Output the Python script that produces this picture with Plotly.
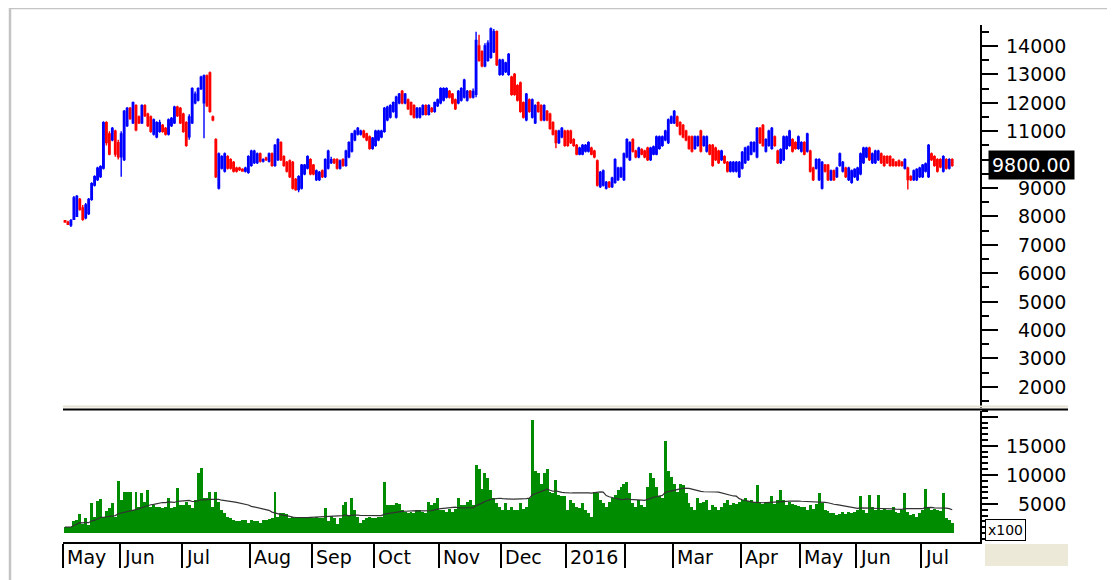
import plotly.graph_objects as go
import pandas as pd

# ---------------- data (daily, May 2015 - Jul 2016) ----------------
opens = [
    7850, 7800, 7700, 7900, 8000, 8600, 8300, 7950, 8100, 8600, 9100, 9300, 9400, 9700, 11300, 10900, 10700, 11000, 10600,
    10100, 10000, 11200, 11800, 11300, 11900, 11500, 11300, 11900, 11600, 11500, 10900, 10800, 11000, 11200, 11100, 10900, 11200, 11300, 11850, 11800,
    11600, 11300, 10800, 11300, 12000, 12100, 12500, 12000, 12950, 13050, 11500, 10700, 9000, 9700, 9600, 10100, 10000, 9900, 9700, 9700, 9650, 9600, 9550,
    9800, 9900, 9900, 10200, 9950, 10050, 9950, 10200, 9800, 10000, 10600, 10100, 9900, 9950, 9900, 9300, 8950, 9000, 9500, 9700, 10000,
    9800, 9300, 9300, 9600, 9400, 9700, 9900, 10000, 10000, 9700, 10000, 9800, 10100, 10300, 10700, 10900, 10900, 11000, 10900, 10800, 10400,
    10500, 10700, 10800, 11000, 11400, 11500, 11700, 11500, 12000, 12400, 12000, 12100, 12000, 11900, 11500, 11500, 11600, 11900, 11600, 11800, 11700, 11900,
    12000, 12100, 12200, 12400, 12300, 12100, 12000, 12100, 12200, 12100, 12400, 12200, 12300, 14000, 13800, 13300, 13500, 13600, 13800, 14500, 13000,
    13000, 13100, 13000, 12900, 13000, 12600, 12700, 12000, 11400, 12100, 11500, 11300, 12000, 11900, 11400, 11700, 11600, 11300, 11000, 10600, 10800, 11000,
    11000, 11000, 10700, 10500, 10200, 10200, 10300, 10300, 10400, 10300, 9950, 9050, 9100, 9000, 9200, 9050, 9200, 9300, 9400, 9300,
    10100, 10000, 10700, 10300, 10100, 10350, 10300, 10400, 10000, 10200, 10200, 10400, 10500, 10700, 10600, 11300,
    11300, 11500, 11300, 11200, 11000, 10800, 10800, 10400, 10500, 11000, 10500, 10300, 10500, 10500, 10400, 10300, 10000, 10100, 9900, 9600, 9600, 9600, 9400,
    9700, 9900, 10000, 10200, 10300, 10100, 11100, 11200, 10300, 10500, 10400, 10800, 10300, 9900, 10000, 10400, 10500, 10700, 10600, 10400,
    10300, 10600, 10300, 10300, 9700, 9700, 9300, 9000, 9800, 9800, 9300, 9600, 9400, 9800, 9600, 9700, 9300, 9200, 9400,
    9300, 9500, 9900, 10100, 10400, 9900, 9900, 10000, 10200, 10100, 10100, 10100, 10000, 9900, 9950, 9900, 9700, 9700, 9400, 9300, 9300, 9400,
    9400, 9600, 9400, 10200, 10100, 10000, 10000, 9600, 10000, 9700, 10000,
]
highs = [
    7870, 7850, 7910, 8720, 8750, 8650, 8400, 8470, 8650, 9200, 9450, 9750, 9800, 11350, 11350, 11000, 11150, 11050, 10700,
    11000, 11750, 11850, 11850, 12050, 11950, 11550, 11950, 11950, 11650, 11550, 11450, 11350, 11400, 11250, 11150, 11450, 11500, 11900, 11900, 11850,
    11650, 11350, 11600, 12550, 12400, 12550, 12950, 13000, 13000, 13100, 11550, 10750, 10250, 10150, 10250, 10150, 10050, 9950, 9750, 9750, 9700, 9750, 10150,
    10350, 10350, 10250, 10250, 10050, 10100, 10250, 10250, 10550, 10750, 10650, 10150, 9950, 10000, 9950, 9350, 9450, 9850, 9850, 10150, 10050,
    9850, 9650, 9600, 9650, 10050, 10350, 10100, 10050, 10050, 10000, 10050, 10350, 10650, 10950, 11050, 11150, 11050, 11050, 10950, 10850, 10800,
    11050, 11050, 11050, 11850, 11900, 11950, 12050, 12250, 12350, 12450, 12350, 12150, 12050, 11950, 11850, 11850, 11950, 11950, 11950, 11850, 12050, 12150,
    12550, 12550, 12550, 12450, 12350, 12150, 12450, 12550, 12850, 12450, 12450, 12500, 14500, 14400, 13850, 14100, 14200, 14650, 14600, 14550, 13550,
    13550, 13450, 13750, 12950, 13050, 12650, 12750, 12050, 12350, 12150, 12150, 11950, 12050, 11950, 11950, 11750, 11650, 11350, 11050, 11050, 11150, 11050,
    11050, 11050, 10750, 10550, 10450, 10550, 10550, 10650, 10450, 10350, 10000, 9600, 9650, 9250, 9250, 9400, 10050, 9750, 9750, 10250,
    10750, 10650, 10750, 10350, 10450, 10400, 10350, 10450, 10450, 10500, 10850, 10850, 10850, 11050, 11450, 11550,
    11750, 11550, 11350, 11250, 11050, 10850, 10850, 10850, 10850, 11050, 10850, 10850, 10550, 10550, 10450, 10350, 10350, 10150, 9950, 9950, 9950, 9950, 9950,
    10300, 10450, 10500, 10650, 10650, 11150, 11150, 11250, 10750, 11050, 11150, 10850, 10350, 10400, 10850, 10850, 11050, 10750, 10650, 10850,
    10650, 10650, 10950, 10350, 9750, 10050, 10050, 9950, 9850, 9850, 9650, 9650, 9750, 10250, 9950, 9750, 9750, 9650, 9700,
    9750, 10250, 10450, 10450, 10450, 10250, 10350, 10350, 10250, 10150, 10150, 10150, 10050, 9950, 10000, 9950, 10050, 9750, 9450, 9650, 9700, 9750,
    9850, 9900, 10550, 10250, 10150, 10050, 10050, 10150, 10050, 10050, 10050,
]
lows = [
    7780, 7700, 7630, 7870, 7980, 8200, 7850, 7900, 8050, 8550, 9050, 9250, 9350, 9650, 10500, 10150, 10650, 10100, 10000,
    9400, 9950, 11150, 11400, 11250, 11000, 11250, 11250, 11500, 11150, 10950, 10850, 10750, 10950, 10950, 10850, 10850, 11150, 11250, 11500, 11250,
    10950, 10450, 10700, 11250, 11950, 12050, 12450, 10750, 11850, 11650, 11350, 9350, 8950, 9650, 9550, 9650, 9650, 9550, 9550, 9600, 9580, 9550, 9500,
    9750, 9850, 9850, 9900, 9900, 9950, 9900, 9750, 9750, 9950, 9950, 9750, 9550, 9350, 8950, 8900, 8850, 8950, 9450, 9650, 9450,
    9450, 9250, 9250, 9350, 9350, 9650, 9850, 9850, 9650, 9650, 9750, 9750, 10050, 10250, 10650, 10850, 10850, 10750, 10650, 10350, 10350,
    10450, 10650, 10750, 10950, 11350, 11450, 11650, 11450, 11950, 11950, 11950, 11750, 11550, 11450, 11450, 11450, 11550, 11550, 11550, 11650, 11650, 11850,
    11950, 12050, 12150, 12150, 11950, 11750, 11950, 12050, 12150, 12050, 12150, 12150, 12200, 13450, 13250, 13250, 13450, 13550, 13750, 13300, 12950,
    12950, 13050, 12950, 12250, 12250, 12050, 11650, 11450, 11350, 11650, 11450, 11250, 11650, 11350, 11350, 11350, 11050, 10850, 10400, 10550, 10750, 10450,
    10450, 10550, 10450, 10150, 10150, 10150, 10250, 10250, 10150, 10050, 9050, 9000, 9050, 8950, 9000, 9000, 9150, 9250, 9350, 9250,
    10050, 9950, 10250, 10050, 10050, 10150, 10050, 9950, 9950, 10150, 10150, 10350, 10450, 10650, 10550, 11250,
    11250, 11150, 10850, 10750, 10650, 10350, 10250, 10350, 10450, 10250, 10450, 10250, 10150, 9750, 9950, 9850, 9950, 9850, 9550, 9550, 9550, 9550, 9350,
    9650, 9850, 9950, 10150, 10250, 10050, 10550, 10450, 10250, 10450, 10350, 10450, 9850, 9850, 9950, 10350, 10450, 10250, 10350, 10350,
    10250, 10150, 10250, 9550, 9250, 9650, 9250, 8950, 9550, 9250, 9250, 9250, 9350, 9750, 9550, 9350, 9250, 9150, 9350,
    9250, 9450, 9850, 10050, 9950, 9850, 9850, 9950, 9850, 9750, 9850, 9750, 9750, 9750, 9750, 9750, 9650, 8950, 9250, 9250, 9250, 9350,
    9350, 9550, 9350, 9950, 9750, 9550, 9700, 9550, 9650, 9650, 9750,
]
closes = [
    7800, 7720, 7850, 8650, 8700, 8250, 7900, 8400, 8600, 9150, 9400, 9700, 9750, 11300, 10600, 10200, 11100, 10200, 10100,
    10900, 11700, 11800, 11450, 12000, 11050, 11300, 11900, 11550, 11200, 11000, 11400, 11300, 11300, 11000, 10900, 11400, 11450, 11850, 11550, 11300,
    11000, 10500, 11500, 12500, 12300, 12500, 12900, 12950, 11900, 11700, 11400, 9400, 10200, 10100, 10200, 9700, 9700, 9600, 9600, 9650, 9600, 9700, 10100,
    10300, 10300, 10200, 9950, 10000, 10000, 10200, 9800, 10500, 10700, 10000, 9800, 9600, 9400, 9000, 8950, 9400, 9800, 9800, 10100, 9500,
    9500, 9600, 9550, 9400, 10000, 10300, 10000, 9900, 9700, 9950, 9800, 10300, 10600, 10900, 11000, 11100, 11000, 10800, 10700, 10400, 10750,
    11000, 11000, 11000, 11800, 11850, 11900, 12000, 12200, 12300, 12000, 12300, 11800, 11600, 11500, 11800, 11800, 11900, 11600, 11900, 11700, 12000, 12100,
    12500, 12500, 12500, 12200, 12000, 11800, 12400, 12500, 12800, 12400, 12200, 12400, 14200, 13500, 13300, 14000, 14100, 14600, 14500, 13350, 13500,
    13500, 13400, 13700, 12300, 12300, 12100, 11700, 11500, 12300, 11700, 12100, 11900, 11700, 11400, 11900, 11400, 11100, 10900, 10600, 11000, 11100, 10500,
    10500, 10600, 10500, 10200, 10400, 10500, 10500, 10600, 10200, 10100, 9100, 9550, 9600, 9200, 9050, 9350, 10000, 9700, 9700, 10200,
    10700, 10600, 10300, 10100, 10400, 10200, 10100, 10000, 10400, 10450, 10800, 10800, 10800, 11000, 11400, 11500,
    11700, 11200, 10900, 10800, 10700, 10400, 10300, 10800, 10800, 10300, 10800, 10800, 10200, 9800, 10000, 9900, 10300, 9900, 9600, 9900, 9900, 9900, 9900,
    10250, 10400, 10450, 10600, 10600, 11100, 10600, 10500, 10700, 11000, 11100, 10500, 9900, 10350, 10800, 10800, 11000, 10300, 10400, 10800,
    10600, 10200, 10900, 9600, 9300, 10000, 10000, 9900, 9600, 9300, 9600, 9300, 9700, 10200, 9900, 9400, 9700, 9600, 9650,
    9700, 10200, 10400, 10400, 10000, 10200, 10300, 10300, 9900, 9800, 9900, 9800, 9800, 9800, 9800, 9800, 10000, 9300, 9300, 9600, 9650, 9700,
    9800, 9850, 10500, 10000, 9800, 9600, 9750, 10100, 9700, 10000, 9800,
]
volumes = [  # in units of x100
    1000, 1100, 1000, 2100, 2200, 3200, 1600, 2500, 1300, 5100, 2700, 5500, 5800, 2800, 3800, 4300, 5100, 2800, 9000,
    5700, 7000, 7000, 7000, 4000, 7000, 4500, 6800, 5300, 7400, 4500, 4800, 4500, 4500, 4300, 4500, 6100, 4300, 4500, 7800, 4800,
    4800, 5400, 4800, 4300, 5700, 10300, 11200, 6100, 6100, 7000, 4500, 7000, 5300, 4000, 3400, 2800, 2500, 2300, 2100, 2000, 2300, 2200, 1700,
    2200, 2000, 2100, 1700, 2300, 2200, 2400, 2600, 7000, 2800, 3400, 3400, 3300, 2600, 2800, 2500, 2700, 2600, 2800, 2500, 2700,
    2500, 2800, 2600, 2500, 4300, 2100, 2900, 2500, 1600, 2500, 4800, 5400, 3100, 6000, 4000, 2800, 1700, 2200, 2600, 2800, 2600,
    2500, 2800, 2800, 8700, 4800, 4800, 4800, 5100, 5000, 4000, 3700, 3400, 3600, 3400, 3800, 4000, 3600, 3400, 5400, 4800, 5100, 6000,
    4000, 4000, 3700, 4200, 3700, 4200, 6000, 4800, 4800, 5400, 5600, 4800, 11700, 11100, 7500, 10300, 9400, 7400, 6000, 5100, 4500,
    4000, 5100, 4000, 4500, 4000, 4000, 5100, 4200, 4500, 6000, 19500, 10600, 10300, 8500, 10300, 11100, 7000, 6800, 9100, 6600, 6400, 6400,
    4000, 5600, 5100, 4500, 4300, 5100, 4000, 3500, 2800, 7000, 6800, 5600, 5100, 4500, 5400, 6000, 6600, 7400, 7900, 8500,
    8800, 6800, 5100, 4500, 5600, 4800, 4500, 7900, 10300, 9400, 7900, 6400, 6000, 15900, 10600, 9600,
    8500, 7000, 8500, 8200, 6800, 5100, 4500, 4000, 6000, 5100, 5400, 5600, 4000, 4800, 4500, 4000, 4500, 5200, 5600, 4800, 5200, 5000, 5400,
    5600, 6000, 5500, 5600, 5400, 8300, 5100, 5000, 5400, 5200, 6400, 5000, 5600, 7400, 5600, 4800, 5400, 5000, 4800, 4600,
    4500, 4500, 4000, 4800, 4200, 5000, 6800, 5100, 4000, 3800, 3400, 3500, 3100, 3300, 3600, 3200, 3700, 3500, 3600,
    4000, 6400, 4000, 3400, 6600, 4500, 4000, 6600, 4000, 4200, 3900, 4000, 4500, 3600, 3400, 4000, 6800, 3700, 3100, 3300, 2800, 3400,
    4000, 7500, 4500, 4000, 4200, 4000, 3800, 6800, 2500, 2200, 1700,
]
month_ticks = [-0.68, 18.5, 39.5, 62.5, 83.5, 104.5, 126.5, 147.5, 169.5, 189.5, 205.5, 228.5, 248.5, 267.5, 289.5]
month_labels = ["May", "Jun", "Jul", "Aug", "Sep", "Oct", "Nov", "Dec", "2016", "", "Mar", "Apr", "May", "Jun", "Jul"]
price_ticks = [2000, 3000, 4000, 5000, 6000, 7000, 8000, 9000, 11000, 12000, 13000, 14000]
price_major = list(range(2000, 15000, 1000))
vol_ticks = [5000, 10000, 15000]
last_price = 9800

n = len(closes)
assert len(opens) == len(highs) == len(lows) == n == len(volumes), (len(opens), len(highs), len(lows), n, len(volumes))
xs = list(range(n))
vol_ma = pd.Series(volumes).rolling(25, min_periods=1).mean().tolist()

FONT = "DejaVu Sans"
fig = go.Figure()
fig.add_trace(go.Candlestick(
    x=xs, open=opens, high=highs, low=lows, close=closes,
    increasing=dict(line=dict(color="#0000FF", width=1.4), fillcolor="#0000FF"),
    decreasing=dict(line=dict(color="#FF0000", width=1.4), fillcolor="#FF0000"),
    whiskerwidth=0, xaxis="x", yaxis="y2", hoverinfo="skip", showlegend=False))
fig.add_trace(go.Bar(x=xs, y=volumes, marker=dict(color="#008C00", line=dict(width=0)),
                     xaxis="x", yaxis="y", hoverinfo="skip", showlegend=False))
fig.add_trace(go.Scatter(x=xs, y=vol_ma, mode="lines", line=dict(color="#333333", width=1.2),
                         xaxis="x", yaxis="y", hoverinfo="skip", showlegend=False))

# page pixel geometry (the html body adds an 8px offset)
OFF = 8
W, H = 1115, 580
L, R, T, B = 63 - OFF, 1115 - (980 - OFF), 25 - OFF, 580 - (542 - OFF)
pw, ph = W - L - R, H - T - B


def px(xp):
    return (xp - OFF - L) / pw


def py(yp):
    return (H - B - (yp - OFF)) / ph


annotations = []
for v in price_ticks:
    annotations.append(dict(x=px(1068), xref="paper", y=v, yref="y2", text=f"{v}", showarrow=False,
                            xanchor="right", yanchor="middle", font=dict(family=FONT, size=19, color="black")))
for v in vol_ticks:
    annotations.append(dict(x=px(1068), xref="paper", y=v, yref="y", text=f"{v}", showarrow=False,
                            xanchor="right", yanchor="middle", font=dict(family=FONT, size=19, color="black")))
for t, lab in zip(month_ticks, month_labels):
    if lab:
        annotations.append(dict(x=t, xref="x", y=py(544), yref="paper", text=lab, showarrow=False,
                                xanchor="left", yanchor="top", xshift=2,
                                font=dict(family=FONT, size=19, color="black")))
annotations.append(dict(x=px(988), xref="paper", y=last_price, yref="y2", text=f"{last_price:.2f}",
                        showarrow=False, xanchor="left", yanchor="middle", bgcolor="black", borderpad=3,
                        font=dict(family=FONT, size=19, color="white")))
annotations.append(dict(x=px(985), xref="paper", y=py(530), yref="paper", text="x100", showarrow=False,
                        xanchor="left", yanchor="middle", bgcolor="white", bordercolor="black", borderwidth=1,
                        borderpad=2, font=dict(family=FONT, size=14, color="black")))

shapes = [
    dict(type="rect", xref="paper", yref="paper", x0=px(10), x1=px(1110), y0=py(600), y1=py(8),
         line=dict(color="#C4C4C4", width=2.5), fillcolor="rgba(0,0,0,0)", layer="below"),
    dict(type="line", xref="paper", yref="paper", x0=0, x1=px(1068), y0=py(406.5), y1=py(406.5),
         line=dict(color="#E6E2D2", width=2)),
    dict(type="line", xref="paper", yref="paper", x0=0, x1=px(1068), y0=py(409.5), y1=py(409.5),
         line=dict(color="black", width=2)),
    dict(type="rect", xref="paper", yref="paper", x0=px(985), x1=px(1068), y0=py(566), y1=py(544),
         line=dict(width=0), fillcolor="#ECE9D8"),
]

fig.update_layout(
    width=W, height=H, autosize=False,
    margin=dict(l=L, r=R, t=T, b=B, pad=0),
    paper_bgcolor="white", plot_bgcolor="white",
    showlegend=False, bargap=0, hovermode=False,
    xaxis=dict(domain=[0, 1], range=[-0.68, 309.4], anchor="y", showline=True, linecolor="black",
               linewidth=2, ticks="outside", ticklen=24, tickwidth=1.5, tickcolor="black",
               tickmode="array", tickvals=month_ticks, showticklabels=False, showgrid=False,
               zeroline=False, rangeslider=dict(visible=False), fixedrange=True),
    yaxis=dict(domain=[0, py(411)], range=[-1550, 21000], side="right", anchor="x", showline=True,
               linecolor="black", linewidth=2, ticks="outside", ticklen=16, tickwidth=2,
               tickcolor="black", tickmode="array", tickvals=[5000, 10000, 15000, 20000],
               showticklabels=False, showgrid=False, zeroline=False, fixedrange=True,
               minor=dict(ticks="outside", ticklen=6, tickwidth=1.5, tickcolor="black",
                          tickmode="linear", tick0=0, dtick=1000)),
    yaxis2=dict(domain=[py(408), 1], range=[1254, 14740], side="right", anchor="x", showline=True,
                linecolor="black", linewidth=2, ticks="outside", ticklen=16, tickwidth=2,
                tickcolor="black", tickmode="array", tickvals=price_major,
                showticklabels=False, showgrid=False, zeroline=False, fixedrange=True,
                minor=dict(ticks="outside", ticklen=7, tickwidth=1.5, tickcolor="black",
                           tickmode="linear", tick0=0, dtick=500)),
    annotations=annotations, shapes=shapes,
)

fig.write_html("out.html", config={"displayModeBar": False})
